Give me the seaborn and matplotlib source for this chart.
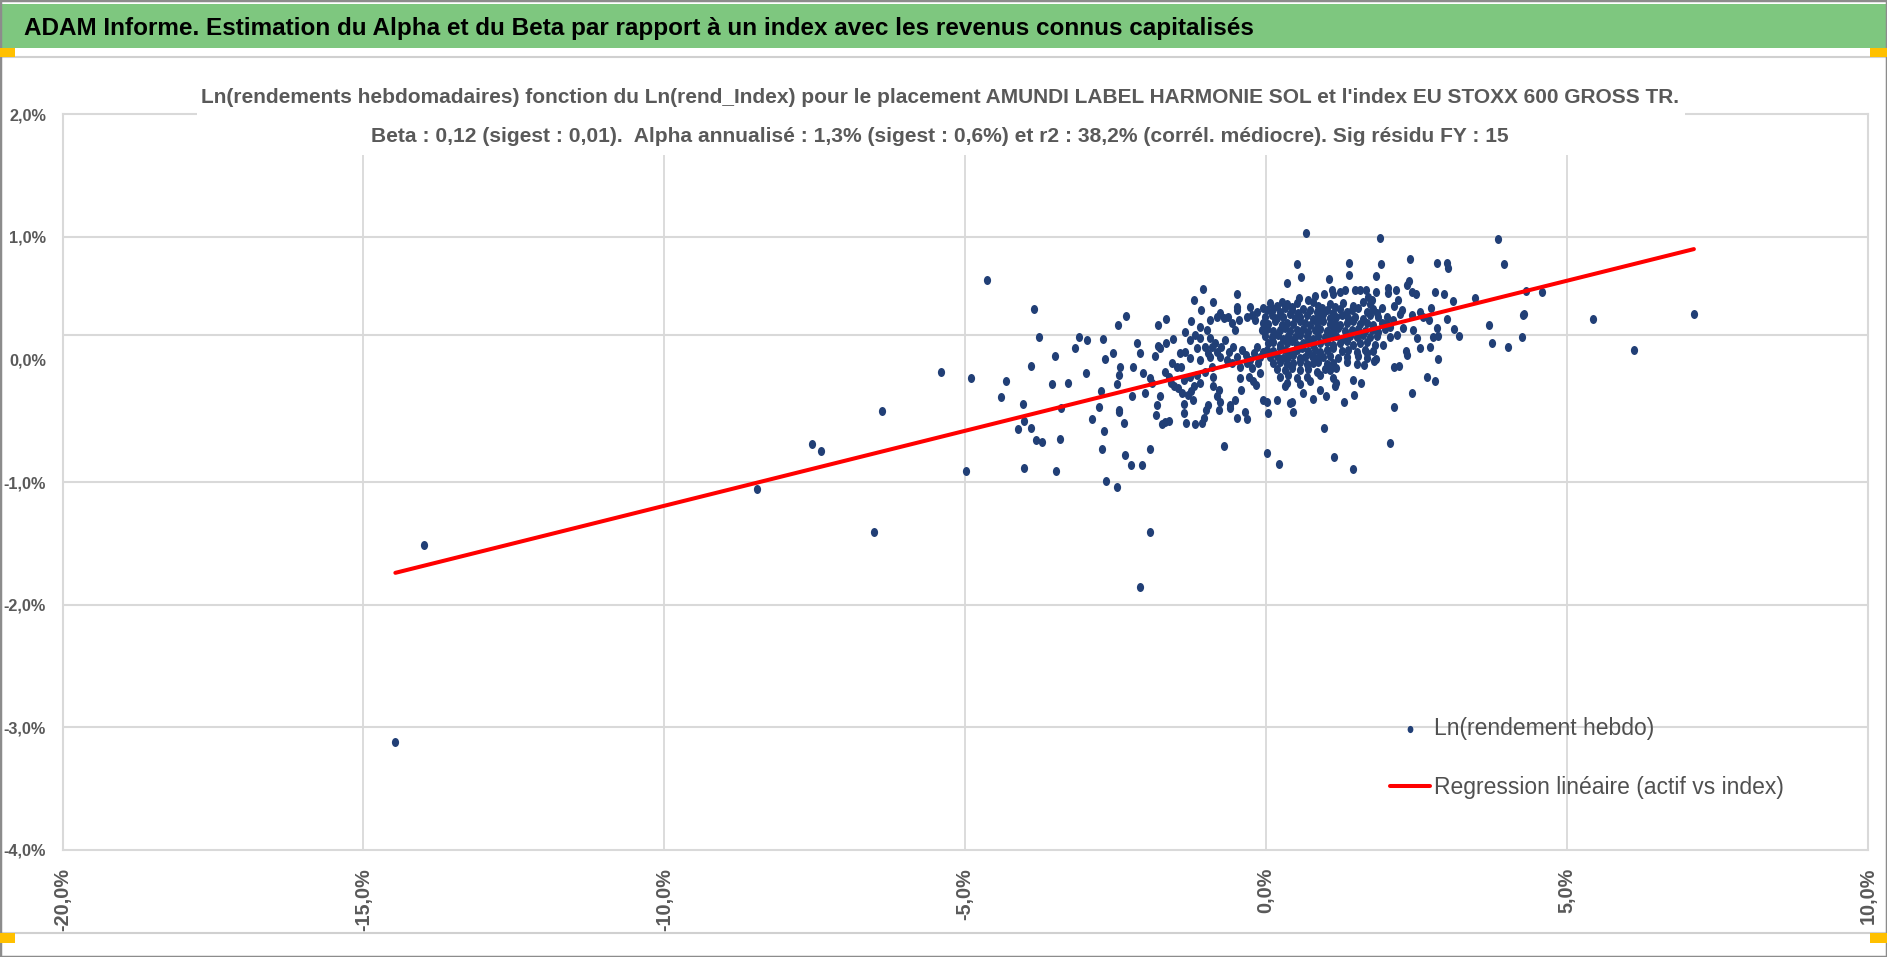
import numpy as np
import pandas as pd
import matplotlib
matplotlib.use("Agg")
import matplotlib.pyplot as plt
import seaborn as sns
from matplotlib.patches import Rectangle
from matplotlib.path import Path
from matplotlib.transforms import Affine2D
from matplotlib.markers import MarkerStyle

# ---------------- DATA (values in %) ----------------
index_ret = [
    -14.47, -14.00,
    -8.46, -7.55, -7.39, -6.38, -6.52, -5.41, -4.90, -4.99, -4.64, -3.86, -3.77, -3.11, -2.98, -2.71,
    -3.17, -3.51, -2.68, -3.91, -4.32, -3.55, -3.29, -3.00, -2.46, -2.45, -2.48, -4.40, -4.04, -2.74,
    -3.41, -2.78, -2.45, -2.44, -4.02, -4.12, -3.91, -2.90, -2.70, -3.83, -3.73, -3.43, -2.72, -4.03,
    -3.49, -2.66, -2.48,
    -2.35, -2.25, -2.07, -1.93, -1.93, -2.09, -0.70, 0.01, 0.22, 1.13, 1.45, 2.06,
    0.66, 1.89, 0.515, 0.58, 0.355, 1.38, 1.905, 1.37, 1.83, 2.40, 2.84, 3.01, 3.03, 2.37, 2.34, 1.04,
    -1.04, -1.20, -0.875, -0.49, -0.49, -0.49, -2.32, -1.79, -1.67, -2.15, -2.09, -1.79, -1.76, -1.67,
    -1.54, -1.85, -1.35, -1.24, -1.08,
    0.55, 0.70, 0.81, 0.96, 1.09, 1.12, 1.23, 1.31, 1.48, 1.56, 1.66, 1.70, 1.76, 1.83, 2.02, 2.02,
    2.16, 2.19, 2.42, 2.49, 2.80, 2.95, 3.11, 2.74, 2.61, 2.43, 2.23, 2.12, 2.01, 1.92, 1.84, 3.00,
    2.84, 3.13, 3.21, 2.85, 2.45, 2.28, 2.17, 2.06, 1.95, 1.82, 2.33, 2.35, 2.56, 2.85, 2.13, 2.21,
    2.68, 2.80, 2.42, 2.13, 0.96,
    -2.36, -2.23, -2.01, -1.93, -1.90, -1.81, -1.83, -1.77, -1.73, -1.68, -1.62, -1.68, -1.62, -1.58,
    -1.53, -1.47, -1.41, -1.36, -1.39, -1.37, -1.37, -1.33, -1.18, -1.07,
    -1.29, -1.25, -1.22, -1.19, -1.27, -1.15, -1.10, -1.01, -0.96, -0.93, -0.90, -0.88, -0.82, -0.78,
    -0.77, -0.79, -0.99, -0.96, -1.03, -0.88, -0.60, -0.52, -0.60, -0.49, -0.32, -0.35, -0.41, -0.43,
    -0.29, -0.21, -0.16, -0.10, -0.05, 0.04, 0.01, 0.18, 0.32, 0.40, 0.45, 0.43,
    -0.765, -0.70, -0.626, -0.57, -0.515, -0.443, -0.32, -0.24, -0.183, -0.93, -0.848, -0.753, -0.68,
    -0.61, -0.543, -0.476, -0.404, -0.332, -0.266, -0.20, -0.155, -0.765, -0.654, -0.57, -0.432, -0.32,
    -0.24, -0.13, -0.10, -0.044, -0.903, -0.82,
    -1.263, -1.152, -1.097, -1.346, -1.485, -1.568, -1.263, -1.18, -1.097, -1.014, -0.986, -1.43,
    -2.43, -2.54, -2.21, -2.04,
    -0.82, -0.93, -1.097, -0.266, -0.155, -0.044,
    2.255, 2.56, 2.70, 2.781, 2.504, 2.726, 2.116, 2.06,
    # dense core
    0.065, 0.176, 0.26, 0.343, 0.425, 0.508, 0.786, 0.869, 1.06, 1.146, 1.284, 1.45, 1.617, 1.727,
    0.01, 0.12, 0.23, 0.315, 0.425, 0.536, 0.62, 0.73, 0.84, 0.924, 1.007, 1.118, 1.229, 1.34, 1.42,
    1.533, 1.672, 1.783,
    -0.018, 0.093, 0.176, 0.287, 0.398, 0.48, 0.564, 0.675, 0.786, 0.869, 0.952, 1.06, 1.17, 1.257,
    1.367, 1.478, 1.617, 1.727, 1.866,
    -0.045, 0.038, 0.149, 0.26, 0.343, 0.453, 0.564, 0.647, 0.73, 0.84, 0.952, 1.06, 1.146, 1.229,
    1.34, 1.45, 1.561, 1.672, 1.783, 1.92, 2.005,
    -0.073, 0.01, 0.12, 0.23, 0.315, 0.398, 0.508, 0.62, 0.70, 0.81, 0.896, 1.007, 1.118, 1.20, 1.31,
    1.42, 1.533, 1.644, 1.755, 1.866, 1.977,
    -0.018, 0.093, 0.204, 0.287, 0.37, 0.48, 0.564, 0.675, 0.786, 0.869, 0.98, 1.06, 1.17, 1.284,
    1.395, 1.506, 1.617, 1.727, 1.838,
    0.038, 0.12, 0.23, 0.343, 0.425, 0.508, 0.62, 0.70, 0.786, 0.896, 1.007, 1.118, 1.229, 1.34, 1.45,
    1.561, 1.672, 1.81,
    0.01, 0.12, 0.23, 0.315, 0.398, 0.508, 0.59, 0.70, 0.81, 0.896, 1.007, 1.118, 1.257, 1.367, 1.506,
    1.644, 1.783,
    0.065, 0.176, 0.287, 0.37, 0.453, 0.564, 0.647, 0.758, 0.84, 0.952, 1.06, 1.20, 1.34, 1.533, 1.672,
    0.12, 0.23, 0.343, 0.453, 0.564, 0.675, 0.786, 0.869, 1.007, 1.118, 1.34, 1.506,
    0.176, 0.315, 0.425, 0.564, 0.70, 0.84, 0.98, 1.06, 1.17,
    0.23, 0.37, 0.508, 0.675, 0.896, 1.118,
    0.343, 0.564, 0.73, 1.17,
    1.45, 1.46, 1.15, 1.62, 1.80, 1.67, 0.90, 0.62, 1.30, 0.78, 1.00, 1.57,
    # right tail
    3.855, 3.955, 3.47, 4.32, 4.58, 4.27, 4.28, 3.71, 3.76, 4.02, 4.26, 5.43, 6.12, 7.11,
]

fund_ret = [
    -3.12, -1.51,
    -1.06, -0.69, -0.75, -0.42, -1.41, -0.10, -0.15, -0.91, 0.65, 0.41, 0.18, 0.18, 0.16, 0.17,
    0.09, 0.03, 0.00, -0.05, -0.18, -0.20, -0.19, -0.11, 0.28, -0.13, -0.20, -0.31, -0.36, -0.26,
    -0.40, -0.39, -0.41, -0.43, -0.50, -0.57, -0.56, -0.49, -0.58, -0.66, -0.67, -0.65, -0.73, -0.885,
    -0.91, -0.99, -1.04,
    -0.78, -0.86, -0.86, -0.73, -1.41, -1.86, -0.71, -0.76, -0.85, -0.80, -0.89, -0.68,
    1.03, 0.99, 0.776, 0.676, 0.627, 0.79, 0.776, 0.69, 0.68, 0.817, 0.79, 0.79, 0.75, 0.64, 0.61, 0.66,
    0.575, 0.485, 0.47, 0.537, 0.43, 0.40, 0.358, 0.28, 0.33, 0.13, 0.05, 0.113, 0.097, 0.13,
    0.167, 0.03, 0.22, 0.31, 0.40,
    0.50, 0.485, 0.52, 0.535, 0.567, 0.53, 0.553, 0.567, 0.567, 0.57, 0.567, 0.51, 0.485, 0.553, 0.58, 0.54,
    0.57, 0.485, 0.553, 0.535, 0.548, 0.535, 0.477, 0.423, 0.344, 0.363, 0.371, 0.437, 0.35, 0.418, 0.377, 0.333,
    0.254, 0.246, 0.195, 0.195, 0.24, 0.254, 0.20, 0.186, 0.118, 0.0, 0.072, 0.037, 0.091, 0.004, -0.058, -0.05,
    -0.145, -0.178, -0.276, -0.39, -0.556,
    -0.515, -0.30, -0.27, -0.148, -0.19, -0.37, -0.45, -0.30, -0.53, -0.507, -0.50, -0.10, -0.14, -0.19,
    -0.22, -0.235, -0.058, -0.167, -0.276, -0.365, -0.44, -0.515, -0.526, -0.515,
    -0.29, -0.254, -0.33, -0.22, -0.14, -0.126, -0.19, -0.10, 0.05, 0.023, -0.058, -0.14, -0.30, -0.25,
    -0.344, -0.41, -0.41, -0.37, -0.48, -0.22, -0.37, -0.33, -0.40, -0.48, -0.49, -0.425, -0.25, -0.154,
    -0.14, -0.18, -0.21, -0.113, -0.33, -0.44, -0.344, -0.33, -0.22, -0.357, -0.425, -0.344,
    0.377, 0.336, 0.35, 0.295, 0.241, 0.322, 0.344, 0.363, 0.322, 0.173, 0.132, 0.105, 0.159,
    0.064, 0.105, 0.023, 0.078, 0.037, -0.004, 0.05, 0.105, 0.023, -0.004, -0.031, -0.058, -0.031,
    -0.072, -0.031, 0.023, 0.064, 0.105, 0.064,
    0.010, 0.091, -0.004, 0.064, -0.058, -0.031, 0.159, 0.20, 0.173, 0.105, 0.241, 0.05,
    -0.058, 0.05, -0.058, -0.113,
    0.35, 0.322, 0.268, 0.431, 0.39, 0.418,
    0.404, 0.39, 0.322, 0.186, 0.173, 0.105, 0.322, 0.268,
    # dense core
    0.46, 0.44, 0.47, 0.45, 0.43, 0.46, 0.47, 0.44, 0.45, 0.43, 0.46, 0.44, 0.47, 0.45,
    0.40, 0.41, 0.39, 0.42, 0.40, 0.38, 0.41, 0.40, 0.39, 0.42, 0.40, 0.38, 0.41, 0.39, 0.40,
    0.42, 0.39, 0.41,
    0.35, 0.36, 0.34, 0.35, 0.37, 0.34, 0.35, 0.36, 0.33, 0.35, 0.37, 0.34, 0.35, 0.36,
    0.34, 0.35, 0.33, 0.36, 0.35,
    0.30, 0.29, 0.31, 0.28, 0.30, 0.29, 0.31, 0.30, 0.28, 0.30, 0.31, 0.29, 0.30, 0.28,
    0.30, 0.31, 0.29, 0.30, 0.28, 0.30, 0.29,
    0.24, 0.25, 0.23, 0.24, 0.26, 0.23, 0.24, 0.25, 0.22, 0.24, 0.25, 0.23, 0.24, 0.26, 0.23,
    0.24, 0.25, 0.23, 0.24, 0.22, 0.25,
    0.19, 0.18, 0.20, 0.17, 0.19, 0.18, 0.20, 0.19, 0.17, 0.19, 0.18, 0.20, 0.19, 0.17,
    0.19, 0.18, 0.20, 0.18, 0.19,
    0.13, 0.14, 0.12, 0.13, 0.15, 0.12, 0.13, 0.14, 0.12, 0.13, 0.14, 0.12, 0.13, 0.15, 0.12,
    0.13, 0.14, 0.12,
    0.08, 0.07, 0.09, 0.08, 0.06, 0.08, 0.09, 0.07, 0.08, 0.06, 0.08, 0.09, 0.07, 0.08, 0.06,
    0.08, 0.07,
    0.02, 0.03, 0.01, 0.02, 0.04, 0.01, 0.02, 0.03, 0.01, 0.02, 0.03, 0.01, 0.02, 0.03, 0.01,
    -0.03, -0.02, -0.04, -0.03, -0.02, -0.04, -0.03, -0.02, -0.04, -0.03, -0.02, -0.04,
    -0.08, -0.09, -0.07, -0.09, -0.08, -0.10, -0.08, -0.09, -0.07,
    -0.14, -0.13, -0.15, -0.14, -0.13, -0.15,
    -0.19, -0.20, -0.18, -0.19,
    -0.167, -0.29, -0.22, -0.045, -0.01, 0.05, -0.25, -0.27, -0.35, -0.32, -0.30, -0.19,
    # right tail
    0.98, 0.78, 0.50, 0.56, 0.55, 0.36, 0.37, 0.28, 0.13, 0.10, 0.18, 0.33, 0.08, 0.37,
]

beta = 0.1224      # slope of the regression (actif vs index)
alpha = 0.03       # intercept, in %

x_ticks = [-20, -15, -10, -5, 0, 5, 10]
y_ticks = [-4, -3, -2, -1, 0, 1, 2]
h_grid = [1, 0.2, -1, -2, -3]

x_tick_labels = ["-20,0%", "-15,0%", "-10,0%", "-5,0%", "0,0%", "5,0%", "10,0%"]
y_tick_labels = ["-4,0%", "-3,0%", "-2,0%", "-1,0%", "0,0%", "1,0%", "2,0%"]

banner_title = "ADAM Informe. Estimation du Alpha et du Beta par rapport à un index avec les revenus connus capitalisés"
title_l1 = ("Ln(rendements hebdomadaires) fonction du Ln(rend_Index) pour le placement AMUNDI LABEL "
            "HARMONIE SOL et l'index EU STOXX 600 GROSS TR.")
title_l2 = ("Beta : 0,12 (sigest : 0,01).  Alpha annualisé : 1,3% (sigest : 0,6%) et r2 : 38,2% "
            "(corrél. médiocre). Sig résidu FY : 15")
series_label = "Ln(rendement hebdo)"
reg_label = "Regression linéaire (actif vs index)"

# ---------------- STYLE ----------------
sns.set_theme(style="white")
plt.rcParams['font.family'] = ["Liberation Sans", 'DejaVu Sans']

W, H = 1887, 957
GRAY_TXT = "#595959"
GRID = "#D9D9D9"
DOT = "#213F76"

fig = plt.figure(figsize=(W / 100, H / 100), dpi=100)
fig.patch.set_facecolor("white")

def fx(px):
    return px / W

def fy(py):
    return 1 - py / H

# axes: plot area
L, R, T, B = 62.6, 1867.8, 114.3, 849.7
ax = fig.add_axes([fx(L), fy(B), fx(R) - fx(L), fy(T) - fy(B)])
ax.set_facecolor("white")

df = pd.DataFrame({"index": index_ret, "fund": fund_ret})

ell = Path.unit_circle().transformed(Affine2D().scale(0.8, 1.0))
sns.scatterplot(data=df, x="index", y="fund", ax=ax, color=DOT, marker=MarkerStyle(ell),
                s=42, linewidth=0, label=series_label, zorder=3)

line_x = np.array([df["index"].min(), df["index"].max()])
line_df = pd.DataFrame({"x": line_x, "y": alpha + beta * line_x})
sns.lineplot(data=line_df, x="x", y="y", ax=ax, color="#FF0000", linewidth=2.9,
             label=reg_label, zorder=4)

ax.set_xlim(-20, 10)
ax.set_ylim(-4, 2)
ax.set_xticks(x_ticks)
ax.set_xticklabels(x_tick_labels)
ax.set_yticks(y_ticks)
ax.set_yticklabels(y_tick_labels)
ax.set_xlabel("")
ax.set_ylabel("")

ax.grid(False)
for xv in x_ticks[1:-1]:
    ax.axvline(xv, color=GRID, lw=1.3, zorder=1)
for yv in h_grid:
    ax.axhline(yv, color=GRID, lw=1.5, zorder=1)
for s in ax.spines.values():
    s.set_visible(True)
    s.set_color(GRID)
    s.set_linewidth(1.5)

ax.tick_params(axis="y", length=0, pad=12, labelsize=11.7, labelcolor=GRAY_TXT)
ax.tick_params(axis="x", length=0, pad=13, labelsize=14.3, labelcolor=GRAY_TXT, rotation=90)
for t in ax.get_yticklabels():
    t.set_fontweight("bold")
for t in ax.get_xticklabels():
    t.set_fontweight("bold")

h, l = ax.get_legend_handles_labels()
leg = ax.legend(h, l, loc="upper left", bbox_to_anchor=(fx(1390), fy(717)),
                bbox_transform=fig.transFigure, frameon=False, borderpad=0, borderaxespad=0,
                handlelength=1.75, handletextpad=0.15, labelspacing=1.55, fontsize=16.5,
                markerscale=0.8)
for t in leg.get_texts():
    t.set_color("#505050")

# ---------------- DECORATIONS ----------------
fig.add_artist(Rectangle((fx(0), fy(933)), 1, fy(57) - fy(933), transform=fig.transFigure,
                         facecolor="none", edgecolor="#D0D0D0", lw=1.5, zorder=0.5))
fig.add_artist(Rectangle((0, 0), 1, 1, transform=fig.transFigure, facecolor="none",
                         edgecolor="#8C8C8C", lw=2.5, zorder=10))
# green banner
fig.add_artist(Rectangle((0, fy(48)), 1, fy(4) - fy(48), transform=fig.transFigure,
                         facecolor="#7EC77F", edgecolor="none", zorder=2))
fig.text(fx(24), fy(35), banner_title, ha="left", va="baseline", fontsize=17.5,
         fontweight="bold", color="black", zorder=3)
# selection handles
for (x0, y0, w, hh) in [(0, 48, 15, 9), (1870, 48, 17, 9), (0, 933, 15, 10), (1870, 933, 17, 10)]:
    fig.add_artist(Rectangle((fx(x0), fy(y0 + hh)), w / W, hh / H, transform=fig.transFigure,
                             facecolor="#FFC000", edgecolor="none", zorder=11))

# chart title (white box hiding grid)
fig.add_artist(Rectangle((fx(197), fy(155)), fx(1685) - fx(197), fy(66) - fy(155),
                         transform=fig.transFigure, facecolor="white", edgecolor="none", zorder=5))
fig.text(fx(940), fy(103), title_l1, ha="center", va="baseline", fontsize=15.0,
         fontweight="bold", color=GRAY_TXT, zorder=6)
fig.text(fx(940), fy(142), title_l2, ha="center", va="baseline", fontsize=15.1,
         fontweight="bold", color=GRAY_TXT, zorder=6)

fig.savefig("out.png", dpi=100, facecolor="white")
